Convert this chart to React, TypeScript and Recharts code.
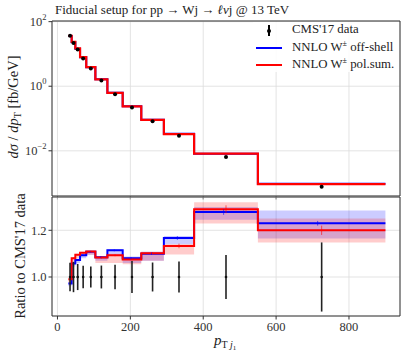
import React from "react";
import {
  ComposedChart,
  Line,
  Area,
  Scatter,
  ErrorBar,
  XAxis,
  YAxis,
  CartesianGrid,
} from "recharts";

// bins of leading-jet pT (GeV)
const binEdges = [30, 39, 49, 62, 79, 104, 137, 179, 230, 292, 375, 550, 900];
const binCenters = [34.5, 44, 55.5, 70.5, 91.5, 120.5, 158, 204.5, 261, 333.5, 462.5, 725];

// CMS'17 measurement (fb/GeV) and its relative error
const cmsXsec = [36.9, 21.8, 13.6, 7.18, 3.52, 1.5, 0.566, 0.22, 0.0828, 0.0291, 0.00638, 0.00077];
const cmsRelErr = [0.061, 0.065, 0.056, 0.048, 0.045, 0.049, 0.052, 0.068, 0.062, 0.066, 0.094, 0.148];

// NNLO predictions (fb/GeV)
const offshellXsec = [35.9, 23.1, 14.6, 7.85, 3.9, 1.63, 0.631, 0.238, 0.0911, 0.034, 0.00815, 0.000947];
const polsumXsec = [36.5, 23.5, 14.9, 7.93, 3.9, 1.62, 0.619, 0.237, 0.0912, 0.033, 0.00823, 0.000924];

// ratios to data
const offshellRatio = [0.972, 1.058, 1.073, 1.093, 1.108, 1.085, 1.114, 1.08, 1.1, 1.167, 1.278, 1.23];
const polsumRatio = [0.99, 1.08, 1.095, 1.104, 1.109, 1.083, 1.093, 1.075, 1.102, 1.133, 1.29, 1.2];
const offshellLo = [0.96, 1.045, 1.06, 1.08, 1.095, 1.07, 1.09, 1.06, 1.07, 1.14, 1.245, 1.165];
const offshellHi = [0.978, 1.062, 1.078, 1.098, 1.112, 1.09, 1.12, 1.088, 1.108, 1.175, 1.3, 1.285];
const polsumLo = [0.975, 1.065, 1.08, 1.09, 1.095, 1.06, 1.06, 1.055, 1.07, 1.096, 1.229, 1.148];
const polsumHi = [0.995, 1.085, 1.1, 1.108, 1.112, 1.088, 1.1, 1.085, 1.108, 1.14, 1.32, 1.25];
const offshellStat = [0.003, 0.003, 0.003, 0.003, 0.003, 0.004, 0.004, 0.005, 0.005, 0.008, 0.012, 0.01];
const polsumStat = [0.003, 0.003, 0.003, 0.003, 0.003, 0.004, 0.004, 0.005, 0.005, 0.01, 0.017, 0.02];
const offshellMarkerX = [34, 43.5, 55, 69.5, 90, 119, 156, 202, 258, 329, 456, 714];

const xTicks = [0, 200, 400, 600, 800];
const logTicks = [0.01, 1, 100];
const ratioTicks = [1.0, 1.2];

const FONT = "'Liberation Serif', 'DejaVu Serif', serif";
const FRAME = "#333";
const GRID = "#dcdcdc";
const BLUE = "#0000ff";
const RED = "#ff0000";

const nBins = cmsXsec.length;
const stepRows = binEdges.map((x, i) => {
  const j = Math.min(i, nBins - 1);
  return {
    x,
    off: offshellXsec[j],
    pol: polsumXsec[j],
    offR: offshellRatio[j],
    polR: polsumRatio[j],
    offBand: [offshellLo[j], offshellHi[j]],
    polBand: [polsumLo[j], polsumHi[j]],
  };
});
const cmsPoints = binCenters.map((x, i) => ({ x, y: cmsXsec[i] }));
const cmsRatioPoints = binCenters.map((x, i) => ({ x, y: 1, err: cmsRelErr[i] }));
const offStatPoints = offshellMarkerX.map((x, i) => ({ x, y: offshellRatio[i], err: offshellStat[i] }));
const polStatPoints = binCenters.map((x, i) => ({ x, y: polsumRatio[i], err: polsumStat[i] }));

const LogTick = (props: any) => {
  const { x, y, payload } = props;
  const exp = Math.round(Math.log10(payload.value));
  return (
    <text x={x} y={y} dy={4} textAnchor="end" fontFamily={FONT} fontSize={12.5} fill="#333">
      10
      <tspan dy={-6} fontSize={8.5}>
        {exp < 0 ? "\u2212" + Math.abs(exp) : exp}
      </tspan>
    </text>
  );
};

const Dot = (p: any) => <circle cx={p.cx} cy={p.cy} r={2} fill="#000" />;
const SmallDot = (p: any) => <circle cx={p.cx} cy={p.cy} r={1.3} fill="#111" />;
const NoShape = () => <g />;

const tickStyle = { fontFamily: FONT, fontSize: 12.5, fill: "#333" };

export default function App() {
  return (
    <div style={{ position: "absolute", left: 0, top: 0, width: 407, height: 355, background: "#fff", fontFamily: FONT }}>
      <div style={{ position: "absolute", left: 55, top: 2, fontSize: 13, color: "#222", whiteSpace: "nowrap" }}>
        Fiducial setup for pp → Wj → <i>ℓν</i>j @ 13 TeV
      </div>

      {/* upper panel: differential cross section */}
      <div style={{ position: "absolute", left: 0, top: 0 }}>
        <ComposedChart width={407} height={200} data={stepRows} margin={{ top: 20, right: 6, left: 12, bottom: 0 }}>
          <CartesianGrid stroke={GRID} strokeWidth={0.8} />
          <XAxis
            dataKey="x"
            type="number"
            domain={[-15, 940]}
            ticks={xTicks}
            allowDataOverflow
            height={4}
            axisLine={{ stroke: FRAME, strokeWidth: 1.2 }}
            tickLine={{ stroke: FRAME }}
            tickSize={3.5}
            tick={NoShape}
          />
          <XAxis xAxisId="t" orientation="top" type="number" domain={[0, 1]} height={1} tick={false} tickLine={false} axisLine={{ stroke: FRAME }} />
          <YAxis
            scale="log"
            type="number"
            domain={[Math.pow(10, -3.4), Math.pow(10, 2.02)]}
            ticks={logTicks}
            allowDataOverflow
            width={40}
            axisLine={{ stroke: FRAME }}
            tickLine={{ stroke: FRAME }}
            tickSize={3.5}
            tickMargin={2}
            tick={<LogTick />}
          />
          <YAxis yAxisId="r" orientation="right" type="number" domain={[0, 1]} width={1} tick={false} tickLine={false} axisLine={{ stroke: FRAME }} />
          <Line type="stepAfter" dataKey="off" stroke={BLUE} strokeWidth={2} dot={false} isAnimationActive={false} />
          <Line type="stepAfter" dataKey="pol" stroke={RED} strokeWidth={2.2} dot={false} isAnimationActive={false} />
          <Scatter data={cmsPoints} dataKey="y" shape={Dot} isAnimationActive={false} />
        </ComposedChart>
      </div>

      {/* lower panel: ratio to data */}
      <div style={{ position: "absolute", left: 0, top: 196 }}>
        <ComposedChart width={407} height={159} data={stepRows} margin={{ top: 0, right: 6, left: 12, bottom: 9 }}>
          <CartesianGrid stroke={GRID} strokeWidth={0.8} />
          <XAxis
            dataKey="x"
            type="number"
            domain={[-15, 940]}
            ticks={xTicks}
            allowDataOverflow
            height={30}
            axisLine={{ stroke: FRAME }}
            tickLine={{ stroke: FRAME }}
            tickSize={3.5}
            tickMargin={3}
            tick={tickStyle}
          />
          <XAxis xAxisId="t" orientation="top" type="number" domain={[0, 1]} height={1} tick={false} tickLine={false} axisLine={{ stroke: FRAME, strokeWidth: 1.2 }} />
          <YAxis
            type="number"
            domain={[0.833, 1.3425]}
            ticks={ratioTicks}
            allowDataOverflow
            width={40}
            axisLine={{ stroke: FRAME }}
            tickLine={{ stroke: FRAME }}
            tickSize={3.5}
            tickMargin={2}
            tick={tickStyle}
            tickFormatter={(v: number) => v.toFixed(1)}
          />
          <YAxis yAxisId="r" orientation="right" type="number" domain={[0, 1]} width={1} tick={false} tickLine={false} axisLine={{ stroke: FRAME }} />
          <Area type="stepAfter" dataKey="offBand" stroke="none" fill={BLUE} fillOpacity={0.2} isAnimationActive={false} />
          <Area type="stepAfter" dataKey="polBand" stroke="none" fill={RED} fillOpacity={0.2} isAnimationActive={false} />
          <Line type="stepAfter" dataKey="offR" stroke={BLUE} strokeWidth={2} dot={false} isAnimationActive={false} />
          <Line type="stepAfter" dataKey="polR" stroke={RED} strokeWidth={2} dot={false} isAnimationActive={false} />
          <Scatter data={offStatPoints} dataKey="y" shape={NoShape} isAnimationActive={false}>
            <ErrorBar dataKey="err" direction="y" width={0} stroke={BLUE} strokeWidth={1} strokeOpacity={0.6} />
          </Scatter>
          <Scatter data={polStatPoints} dataKey="y" shape={NoShape} isAnimationActive={false}>
            <ErrorBar dataKey="err" direction="y" width={0} stroke={RED} strokeWidth={1} strokeOpacity={0.6} />
          </Scatter>
          <Scatter data={cmsRatioPoints} dataKey="y" shape={SmallDot} isAnimationActive={false}>
            <ErrorBar dataKey="err" direction="y" width={0} stroke="#222" strokeWidth={1.6} />
          </Scatter>
        </ComposedChart>
      </div>

      {/* axis titles */}
      <svg width={407} height={355} style={{ position: "absolute", left: 0, top: 0, pointerEvents: "none" }}>
        <text transform="translate(18,107) rotate(-90)" textAnchor="middle" fontFamily={FONT} fontSize={14.5} fill="#222">
          <tspan fontStyle="italic">dσ</tspan> / <tspan fontStyle="italic">dp</tspan>
          <tspan fontSize={10} baselineShift="-3">T</tspan> [fb/GeV]
        </text>
        <text transform="translate(25,256) rotate(-90)" textAnchor="middle" fontFamily={FONT} fontSize={14.5} fill="#222">
          Ratio to CMS'17 data
        </text>
        <text x={214} y={345} fontFamily={FONT} fontSize={15} fill="#222">
          <tspan fontStyle="italic">p</tspan>
          <tspan fontSize={10} dy={3}>T </tspan>
          <tspan fontSize={10} fontStyle="italic">j</tspan>
          <tspan fontSize={7} dy={2}>1</tspan>
        </text>
      </svg>

      {/* legend */}
      <div
        style={{
          position: "absolute",
          left: 253,
          top: 22,
          width: 146,
          height: 50,
          background: "rgba(255,255,255,0.85)",
          fontSize: 12.8,
          color: "#222",
        }}
      >
        <div style={{ position: "absolute", left: 15, top: 3, width: 1.5, height: 11, background: "#000" }} />
        <div style={{ position: "absolute", left: 14, top: 6.5, width: 4, height: 4, borderRadius: 2, background: "#000" }} />
        <div style={{ position: "absolute", left: 39, top: 0, whiteSpace: "nowrap" }}>CMS'17 data</div>
        <div style={{ position: "absolute", left: 3, top: 24.5, width: 26, height: 2, background: BLUE }} />
        <div style={{ position: "absolute", left: 39, top: 17, whiteSpace: "nowrap" }}>
          NNLO W<sup style={{ fontSize: 8 }}>±</sup> off-shell
        </div>
        <div style={{ position: "absolute", left: 3, top: 42, width: 26, height: 2, background: RED }} />
        <div style={{ position: "absolute", left: 39, top: 34, whiteSpace: "nowrap" }}>
          NNLO W<sup style={{ fontSize: 8 }}>±</sup> pol.sum.
        </div>
      </div>
    </div>
  );
}
